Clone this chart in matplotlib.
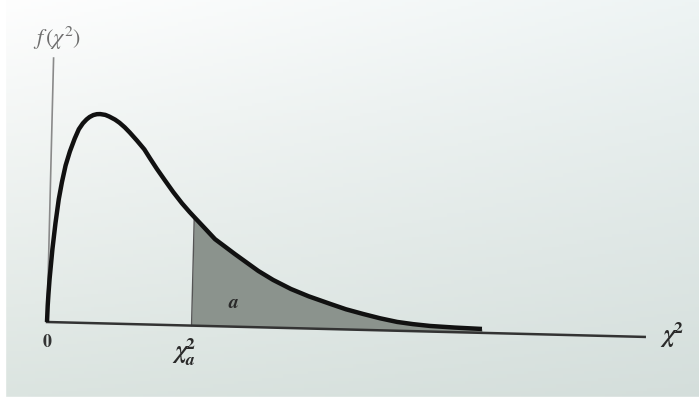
import numpy as np
import matplotlib
matplotlib.use("Agg")
import matplotlib.pyplot as plt
from matplotlib.transforms import Affine2D

plt.rcParams['mathtext.fontset'] = 'stix'
plt.rcParams['font.family'] = 'STIXGeneral'

# chi-square density curve (x in chi^2 units, y = f)
chi_x = [0, 0.01, 0.025, 0.05, 0.12, 0.2, 0.29, 0.38, 0.49, 0.62, 0.77, 0.9,
         1.03, 1.15, 1.25, 1.37, 1.49, 1.6, 1.77, 1.9, 2.1, 2.25, 2.43,
         2.6, 2.85, 3.1, 3.3, 3.53, 3.8, 4.1, 4.4, 4.66, 4.82, 5.15, 5.53,
         5.85, 6.2, 6.6, 7.0, 7.5, 8.1, 8.7, 9.43, 9.95, 10.53, 11.1,
         11.67, 12.2, 12.77, 13.6, 14.5]
chi_f = [0, 0.0165, 0.028, 0.043, 0.073, 0.099, 0.123, 0.140, 0.157, 0.171,
         0.184, 0.1935, 0.1995, 0.2035, 0.206, 0.208, 0.209, 0.2092, 0.2085,
         0.207, 0.204, 0.201, 0.1965, 0.1915, 0.1835, 0.175, 0.166, 0.156,
         0.145, 0.133, 0.122, 0.1135, 0.1086, 0.0986, 0.087, 0.0802, 0.0727,
         0.0645, 0.0563, 0.0477, 0.0391, 0.0322, 0.0251, 0.0202, 0.0159,
         0.0120, 0.0088, 0.0070, 0.0056, 0.0046, 0.0039]

# critical value chi^2_a, start of the upper tail area a
chi_crit = 4.82
x_axis_end = 19.93
y_axis_top = 0.264

fig = plt.figure(figsize=(6.99, 4.02), dpi=100)
ax = fig.add_axes([0, 0, 1, 1])
ax.set_xlim(-47 / 30, 652 / 30)
ax.set_ylim(-0.079, 0.323)
ax.axis('off')

# paper background, whiter at the top left
gx = np.linspace(0, 1, 200)
gy = np.linspace(0, 1, 120)
X, Y = np.meshgrid(gx, gy)
tl = np.array([254, 254, 254])
tr = np.array([238, 244, 244])
bl = np.array([219, 228, 224])
br = np.array([212, 222, 219])
bg = ((1 - X)[..., None] * (1 - Y)[..., None] * bl + X[..., None] * (1 - Y)[..., None] * br
      + (1 - X)[..., None] * Y[..., None] * tl + X[..., None] * Y[..., None] * tr) / 255
ax.imshow(bg, extent=[0, 1, 0, 1], origin='lower', transform=ax.transAxes,
          aspect='auto', zorder=0)
fig.patches.append(plt.Rectangle((0, 0), 5 / 699, 1, transform=fig.transFigure,
                                 color='white', zorder=10))
fig.patches.append(plt.Rectangle((0, 0), 1, 4 / 402, transform=fig.transFigure,
                                 color='white', zorder=10))

# page is slightly tilted
tilt = ax.transData + Affine2D().rotate_deg_around(47, 79, -1.43)

cx = np.array(chi_x)
cf = np.array(chi_f)
tail = cx >= chi_crit
ax.fill_between(cx[tail], 0, cf[tail], color='#8b938d', lw=0, transform=tilt, zorder=2)
ax.plot([chi_crit, chi_crit], [0, cf[tail][0]], color='#555555', lw=1.0,
        transform=tilt, zorder=3)

ax.plot([0, 0], [0, y_axis_top], color='#8a8a8a', lw=1.2, transform=tilt, zorder=3)
ax.plot([0, x_axis_end], [0, 0], color='#333333', lw=1.8, transform=tilt, zorder=3)
ax.plot(cx, cf, color='#111111', lw=3.2, solid_capstyle='butt',
        solid_joinstyle='round', transform=tilt, zorder=4)

ax.text(0.33, 0.285, r'$f\,(\chi^2)$', fontsize=16, color='#6e6e6e',
        ha='center', va='center', zorder=5)
ax.text(0.0, -0.020, '0', fontsize=13, fontweight='bold', color='#333333',
        ha='center', va='center', zorder=5)
ax.text(4.57, -0.029, r'$\boldsymbol{\chi}^{\mathbf{2}}_{\boldsymbol{a}}$', fontsize=18,
        color='#2a2a2a', ha='center', va='center', zorder=5)
ax.text(6.2, 0.020, 'a', fontsize=14, fontstyle='italic', fontweight='bold',
        color='#2a2a2a', ha='center', va='center', zorder=5)
ax.text(20.83, -0.012, r'$\boldsymbol{\chi}^{\mathbf{2}}$', fontsize=18,
        color='#2a2a2a', ha='center', va='center', zorder=5)

fig.savefig('out.png', dpi=100)
